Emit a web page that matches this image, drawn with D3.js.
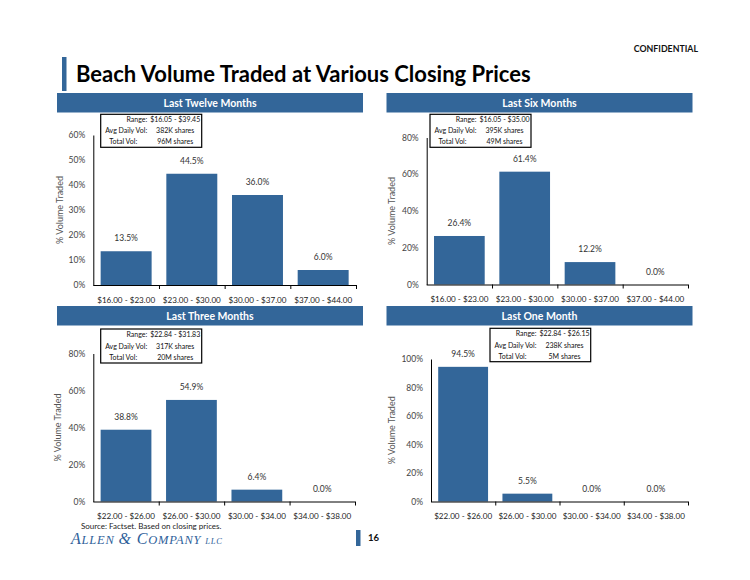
<!DOCTYPE html>
<html>
<head>
<meta charset="UTF-8">
<script src="https://cdn.jsdelivr.net/npm/d3@7/dist/d3.min.js"></script>
<style>
body{
    margin:0;
    background:#fff;
    font-family:"Lato","Open Sans",sans-serif;
}
.axis path, .axis line{ stroke:#000; }
</style>
</head>
<body>
<script>

// data
var panelTitles = ["Last Twelve Months", "Last Six Months", "Last Three Months", "Last One Month"];

var longCats  = ["$16.00 - $23.00", "$23.00 - $30.00", "$30.00 - $37.00", "$37.00 - $44.00"];
var shortCats = ["$22.00 - $26.00", "$26.00 - $30.00", "$30.00 - $34.00", "$34.00 - $38.00"];

var ltmValues = [13.5, 44.5, 36.0, 6.0];
var l6mValues = [26.4, 61.4, 12.2, 0.0];
var l3mValues = [38.8, 54.9, 6.4, 0.0];
var l1mValues = [94.5, 5.5, 0.0, 0.0];

var ltmTicks = [0, 10, 20, 30, 40, 50, 60];
var l6mTicks = [0, 20, 40, 60, 80];
var l3mTicks = [0, 20, 40, 60, 80];
var l1mTicks = [0, 20, 40, 60, 80, 100];

var infoLabels = ["Range:", "Avg Daily Vol:", "Total Vol:"];
var ranges    = ["$16.05 - $39.45", "$16.05 - $35.00", "$22.84 - $31.83", "$22.84 - $26.15"];
var avgVols   = ["382K shares", "395K shares", "317K shares", "238K shares"];
var totalVols = ["96M shares", "49M shares", "20M shares", "5M shares"];

var W = 750, H = 580;
var blue = "#336699";

var svg = d3.select("body").append("svg")
    .attr("width", W)
    .attr("height", H);

// page furniture
svg.append("text")
    .attr("x", 698).attr("y", 52)
    .attr("text-anchor", "end")
    .attr("font-size", 8.8).attr("font-weight", "bold")
    .attr("fill", "#111")
    .text("CONFIDENTIAL");

svg.append("rect")
    .attr("x", 62).attr("y", 57).attr("width", 4.5).attr("height", 34)
    .attr("fill", blue);

svg.append("text")
    .attr("x", 76).attr("y", 82)
    .attr("font-size", 22).attr("font-weight", "bold")
    .attr("fill", "#000")
    .text("Beach Volume Traded at Various Closing Prices");

// layout of each panel (pixel geometry, not data)
var layout = [
  {hx:57,  hy:93,  hw:306, x0:93.3,  x1:356, yb:285,   yt:135,   tx:60,    box:[100.7,114.3,101,33]},
  {hx:386.5,hy:93, hw:306, x0:426.7, x1:688, yb:284.5, yt:137.5, tx:391.7, box:[430,114.3,101,33]},
  {hx:57,  hy:306, hw:306, x0:93.3,  x1:355, yb:501.5, yt:353.5, tx:58.3,  box:[100.7,329,101,34]},
  {hx:386.5,hy:306,hw:306, x0:431,   x1:688, yb:501.5, yt:359,   tx:391.7, box:[490,328.3,100.7,33.4]}
];

var panelValues = [ltmValues, l6mValues, l3mValues, l1mValues];
var panelTicks  = [ltmTicks, l6mTicks, l3mTicks, l1mTicks];
var panelCats   = [longCats, longCats, shortCats, shortCats];
var labelRight  = [46.5, 46.5, 36.5];

function drawPanel(i){
    var L = layout[i],
        values = panelValues[i],
        ticks = panelTicks[i],
        cats = panelCats[i];

    // header bar
    svg.append("rect")
        .attr("x", L.hx).attr("y", L.hy).attr("width", L.hw).attr("height", 19.5)
        .attr("fill", blue);
    svg.append("text")
        .attr("x", L.hx + L.hw/2).attr("y", L.hy + 13.5)
        .attr("text-anchor", "middle")
        .attr("font-size", 10.5).attr("font-weight", "bold")
        .attr("fill", "white")
        .text(panelTitles[i]);

    var x = d3.scaleBand().domain(cats).range([L.x0, L.x1])
        .paddingInner(0.224).paddingOuter(0.112);
    var y = d3.scaleLinear().domain([0, d3.max(ticks)]).range([L.yb, L.yt]);
    var edges = d3.scaleLinear().domain([0, cats.length]).range([L.x0, L.x1]);

    svg.selectAll(".bar" + i)
        .data(values)
        .enter().append("rect")
        .attr("class", "bar" + i)
        .attr("x", function(d, j){ return x(cats[j]); })
        .attr("width", x.bandwidth())
        .attr("y", function(d){ return y(d); })
        .attr("height", function(d){ return L.yb - y(d); })
        .attr("fill", blue);

    svg.selectAll(".val" + i)
        .data(values)
        .enter().append("text")
        .attr("class", "val" + i)
        .attr("x", function(d, j){ return x(cats[j]) + x.bandwidth()/2; })
        .attr("y", function(d){ return y(d) - 10; })
        .attr("text-anchor", "middle")
        .attr("font-size", 8.5)
        .attr("fill", "#333")
        .text(function(d){ return d.toFixed(1) + "%"; });

    // y axis
    var gY = svg.append("g")
        .attr("class", "axis")
        .attr("transform", "translate(" + L.x0 + ",0)")
        .call(d3.axisLeft(y).tickValues(ticks).tickSize(0).tickPadding(8)
            .tickFormat(function(d){ return d + "%"; }));
    gY.selectAll("text").attr("font-size", 8.5).attr("fill", "#444")
        .attr("font-family", "Lato, sans-serif");

    // x axis: tick marks at category edges, labels at centers
    var gE = svg.append("g")
        .attr("class", "axis")
        .attr("transform", "translate(0," + L.yb + ")")
        .call(d3.axisBottom(edges).tickValues([1, 2, 3, 4]).tickSize(4).tickSizeOuter(0)
            .tickFormat(""));
    gE.select(".domain").attr("d", "M" + L.x0 + ",0.5H" + L.x1);

    var gX = svg.append("g")
        .attr("transform", "translate(0," + L.yb + ")")
        .call(d3.axisBottom(x).tickSize(0).tickPadding(12));
    gX.select(".domain").remove();
    gX.selectAll("text").attr("font-size", 8.1).attr("fill", "#222")
        .attr("font-family", "Lato, sans-serif");

    svg.append("text")
        .attr("transform", "translate(" + L.tx + "," + ((L.yb + L.yt)/2) + ") rotate(-90)")
        .attr("text-anchor", "middle")
        .attr("dy", "0.35em")
        .attr("font-size", 9)
        .attr("fill", "#555")
        .text("% Volume Traded");

    // info box
    var b = L.box;
    svg.append("rect")
        .attr("x", b[0]).attr("y", b[1]).attr("width", b[2]).attr("height", b[3])
        .attr("fill", "white").attr("stroke", "#000").attr("stroke-width", 1.2);
    var rowVals = [ranges[i], avgVols[i], totalVols[i]];
    var rowStep = b[3] / 3;
    infoLabels.forEach(function(lab, k){
        var ry = b[1] + rowStep * (k + 0.5) + 2.5;
        svg.append("text")
            .attr("x", b[0] + labelRight[k]).attr("y", ry)
            .attr("text-anchor", "end")
            .attr("font-size", 7).attr("fill", "#111")
            .text(lab);
        svg.append("text")
            .attr("x", b[0] + 74.5).attr("y", ry)
            .attr("text-anchor", "middle")
            .attr("font-size", 7).attr("fill", "#111")
            .text(rowVals[k]);
    });
}

for (var i = 0; i < panelTitles.length; i++) drawPanel(i);

// footer
svg.append("text")
    .attr("x", 81).attr("y", 528.5)
    .attr("font-size", 8).attr("fill", "#222")
    .text("Source: Factset.  Based on closing prices.");

var logo = svg.append("text")
    .attr("x", 71).attr("y", 544)
    .attr("font-family", "Liberation Serif, serif")
    .attr("font-style", "italic")
    .attr("letter-spacing", 0.8)
    .attr("fill", "#2f5f9a");
logo.append("tspan").attr("font-size", 16).text("A");
logo.append("tspan").attr("font-size", 12.5).text("LLEN ");
logo.append("tspan").attr("font-size", 16).text("& C");
logo.append("tspan").attr("font-size", 12.5).text("OMPANY ");
logo.append("tspan").attr("font-size", 8.5).text("LLC");

svg.append("rect")
    .attr("x", 356).attr("y", 530).attr("width", 4.5).attr("height", 16)
    .attr("fill", blue);
svg.append("text")
    .attr("x", 368).attr("y", 541)
    .attr("font-size", 9.5).attr("font-weight", "bold")
    .attr("fill", "#111")
    .text("16");

</script>
</body>
</html>
